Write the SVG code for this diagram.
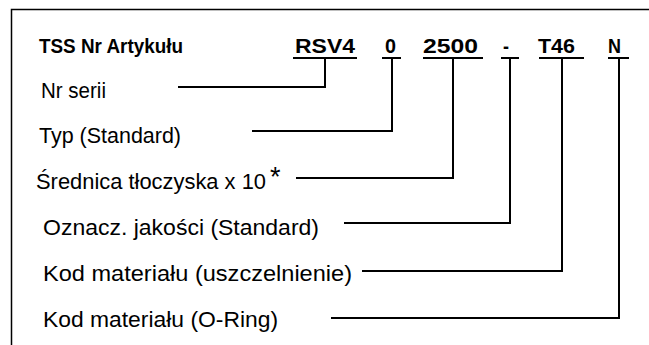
<svg xmlns="http://www.w3.org/2000/svg" width="649" height="345" viewBox="0 0 649 345">
<style>
.frame{fill:none;stroke:#000;stroke-width:1.5}
.ln{fill:none;stroke:#000;stroke-width:2}
.ul{fill:none;stroke:#000;stroke-width:2}
.title{font-family:"Liberation Sans Narrow","Liberation Sans",Arial,sans-serif;font-weight:bold;font-size:20px;fill:#000}
.code{font-family:"Liberation Sans Narrow","Liberation Sans",Arial,sans-serif;font-weight:bold;font-size:20px;fill:#000}
.lbl{font-family:"Liberation Sans",Arial,sans-serif;font-size:22px;fill:#000}
.ast{font-size:27px}
</style>
<rect width="649" height="345" fill="#fff"/>
<path class="frame" d="M11.5,345 V9.5 H649"/>
<g id="title">
<text class="title" x="39" y="53" textLength="144" lengthAdjust="spacingAndGlyphs">TSS Nr Artykułu</text>
</g>
<g id="code-rsv4">
<text class="code" x="295" y="53" textLength="60" lengthAdjust="spacingAndGlyphs">RSV4</text>
<line class="ul" x1="293" y1="58" x2="357" y2="58"/>
</g>
<g id="code-0">
<text class="code" x="385" y="53" textLength="11" lengthAdjust="spacingAndGlyphs">0</text>
<line class="ul" x1="382" y1="58" x2="401" y2="58"/>
</g>
<g id="code-2500">
<text class="code" x="423" y="53" textLength="55" lengthAdjust="spacingAndGlyphs">2500</text>
<line class="ul" x1="423" y1="58" x2="483" y2="58"/>
</g>
<g id="code-dash">
<text class="code" x="503" y="53" textLength="6" lengthAdjust="spacingAndGlyphs">-</text>
<line class="ul" x1="501" y1="58" x2="519" y2="58"/>
</g>
<g id="code-t46">
<text class="code" x="538" y="53" textLength="37" lengthAdjust="spacingAndGlyphs">T46</text>
<line class="ul" x1="539" y1="58" x2="584" y2="58"/>
</g>
<g id="code-n">
<text class="code" x="608" y="53" textLength="13" lengthAdjust="spacingAndGlyphs">N</text>
<line class="ul" x1="608" y1="58" x2="629" y2="58"/>
</g>
<g id="label-nr-serii">
<text class="lbl" x="41" y="98" textLength="65" lengthAdjust="spacingAndGlyphs">Nr serii</text>
</g>
<g id="label-typ">
<text class="lbl" x="39" y="143" textLength="142" lengthAdjust="spacingAndGlyphs">Typ (Standard)</text>
</g>
<g id="label-srednica">
<text class="lbl" x="36" y="189"><tspan textLength="230" lengthAdjust="spacingAndGlyphs">Średnica tłoczyska x 10</tspan><tspan class="ast" dx="4" dy="-3">*</tspan></text>
</g>
<g id="label-oznacz">
<text class="lbl" x="43" y="235" textLength="276" lengthAdjust="spacingAndGlyphs">Oznacz. jakości (Standard)</text>
</g>
<g id="label-kod-uszcz">
<text class="lbl" x="43" y="281" textLength="309" lengthAdjust="spacingAndGlyphs">Kod materiału (uszczelnienie)</text>
</g>
<g id="label-kod-oring">
<text class="lbl" x="43" y="327" textLength="235" lengthAdjust="spacingAndGlyphs">Kod materiału (O-Ring)</text>
</g>
<g id="connectors">
<polyline class="ln" points="178,87 325,87 325,58"/>
<polyline class="ln" points="252,131 392,131 392,58"/>
<polyline class="ln" points="296,178 453,178 453,58"/>
<polyline class="ln" points="344,223 510,223 510,58"/>
<polyline class="ln" points="362,271 562,271 562,58"/>
<polyline class="ln" points="331,318 619,318 619,58"/>
</g>
</svg>
